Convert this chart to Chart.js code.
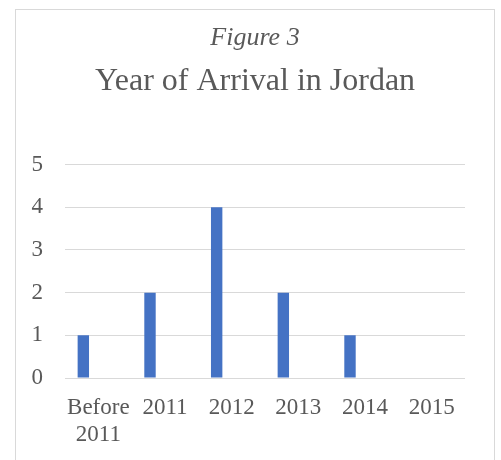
<!DOCTYPE html>
<html>
<head>
<meta charset="utf-8">
<script src="https://cdn.jsdelivr.net/npm/chart.js@4"></script>
<style>
    body { margin: 0; background: #ffffff; }
    .chart-box {
        position: absolute;
        left: 15px;
        top: 9px;
        width: 478px;
        height: 470px;
        border: 1px solid #d9d9d9;
        background: #ffffff;
    }
    #arrivalChart { display: block; }
</style>
</head>
<body>
<div class="chart-box">
    <canvas id="arrivalChart" width="478" height="450"></canvas>
</div>
<script>
// Arrival year counts
const yearLabels = [['Before', '2011'], '2011', '2012', '2013', '2014', '2015'];
const arrivalCounts = [1, 2, 4, 2, 1, 0];
// second (empty) series kept from the source sheet, it only takes up a slot
const emptySeries = [null, null, null, null, null, null];
const yTicks = [0, 1, 2, 3, 4, 5];

const serif = "'Liberation Serif', 'Times New Roman', serif";
const textColor = '#595959';
const gridColor = '#d9d9d9';

const ctx = document.getElementById('arrivalChart').getContext('2d');

new Chart(ctx, {
    type: 'bar',
    data: {
        labels: yearLabels,
        datasets: [{
            label: 'Count',
            data: arrivalCounts,
            backgroundColor: '#4472c4',
            borderWidth: 0,
            categoryPercentage: 0.9,
            barPercentage: 0.38
        }, {
            label: '',
            data: emptySeries,
            backgroundColor: '#ed7d31',
            categoryPercentage: 0.9,
            barPercentage: 0.38
        }]
    },
    options: {
        responsive: false,
        animation: false,
        layout: {
            padding: 0
        },
        plugins: {
            legend: { display: false },
            tooltip: { enabled: false },
            title: {
                display: true,
                text: 'Figure 3',
                color: textColor,
                font: { family: serif, size: 26, style: 'italic', weight: 'normal', lineHeight: 1.2 },
                padding: { top: 13, bottom: 0 }
            },
            subtitle: {
                display: true,
                text: 'Year of Arrival in Jordan',
                color: textColor,
                font: { family: serif, size: 32, weight: 'normal', lineHeight: 1.2 },
                padding: { top: 8, bottom: 64 }
            }
        },
        scales: {
            x: {
                grid: { display: false },
                border: { display: false },
                ticks: {
                    color: textColor,
                    font: { family: serif, size: 23, lineHeight: 1.15 },
                    maxRotation: 0,
                    autoSkip: false,
                    padding: 9
                },
                afterFit: (scale) => { scale.height = 82; }
            },
            y: {
                min: 0,
                max: 5,
                grid: { color: gridColor, lineWidth: 1, drawTicks: false },
                border: { display: false },
                afterBuildTicks: (scale) => {
                    scale.ticks = yTicks.map(v => ({ value: v }));
                },
                ticks: {
                    color: textColor,
                    font: { family: serif, size: 23 },
                    padding: 22
                },
                afterFit: (scale) => { scale.width = 49; }
            },
            // blank right margin, keeps the titles centred on the whole box
            yRight: {
                position: 'right',
                grid: { display: false },
                border: { display: false },
                ticks: { display: false },
                afterFit: (scale) => { scale.width = 29; }
            }
        }
    }
});
</script>
</body>
</html>
